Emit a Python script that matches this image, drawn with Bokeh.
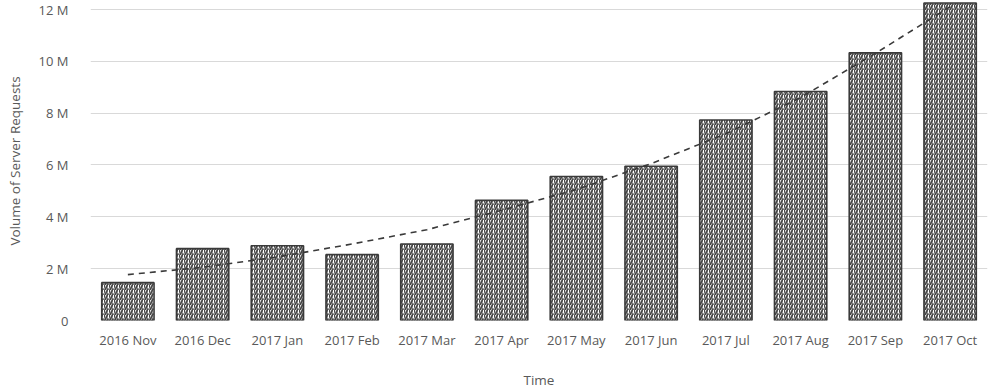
from bokeh.plotting import figure
from bokeh.models import FactorRange, Range1d, FixedTicker, CustomJSTickFormatter, ColumnDataSource
from bokeh.embed import file_html
from bokeh.resources import INLINE

months = ["2016 Nov", "2016 Dec", "2017 Jan", "2017 Feb", "2017 Mar", "2017 Apr",
          "2017 May", "2017 Jun", "2017 Jul", "2017 Aug", "2017 Sep", "2017 Oct"]
requests_m = [1.46, 2.77, 2.88, 2.54, 2.95, 4.63, 5.55, 5.95, 7.73, 8.83, 10.32, 12.24]
trend_m = [1.77, 2.05, 2.45, 2.95, 3.5, 4.25, 5.05, 6.05, 7.2, 8.6, 10.3, 12.1]
y_ticks = [0, 2, 4, 6, 8, 10, 12]

src = ColumnDataSource(dict(x=months, top=requests_m, trend=trend_m))

p = figure(width=994, height=391, x_range=FactorRange(*months, range_padding=0),
           y_range=Range1d(0, 12.3), output_backend="svg", toolbar_location=None,
           min_border_left=90, min_border_right=7, min_border_top=1, min_border_bottom=70)
p.outline_line_color = None

txt = "#595959"
font = "Open Sans"

p.vbar(x="x", top="top", width=0.7, source=src, fill_color="#e6e6e6",
       hatch_pattern="/", hatch_color="#484848", hatch_scale=5, hatch_weight=1.7,
       line_color=None)
p.vbar(x="x", top="top", width=0.7, source=src, fill_color=None,
       hatch_pattern=":", hatch_color="white", hatch_scale=5, hatch_weight=1.0,
       line_color="#3a3a3a", line_width=1.6)
p.line(x="x", y="trend", source=src, line_color="#3a3a3a", line_width=1.6, line_dash="6 5")

p.xgrid.grid_line_color = None
p.ygrid.grid_line_color = "#d9d9d9"
p.ygrid.grid_line_width = 1
p.yaxis.ticker = FixedTicker(ticks=y_ticks)
p.yaxis.formatter = CustomJSTickFormatter(code="return tick == 0 ? '0' : tick + ' M';")

for ax in (p.xaxis, p.yaxis):
    ax.axis_line_color = None
    ax.major_tick_line_color = None
    ax.minor_tick_line_color = None
    ax.major_label_text_color = txt
    ax.major_label_text_font = font
    ax.major_label_text_font_size = "13px"
    ax.axis_label_text_color = txt
    ax.axis_label_text_font = font
    ax.axis_label_text_font_size = "13.5px"
    ax.axis_label_text_font_style = "normal"

p.xaxis.axis_label = "Time"
p.yaxis.axis_label = "Volume of Server Requests"
p.xaxis.major_label_standoff = 4
p.xaxis.axis_label_standoff = 19
p.yaxis.major_label_standoff = 16
p.yaxis.axis_label_standoff = 12

open("out.html", "w").write(file_html(p, INLINE))
